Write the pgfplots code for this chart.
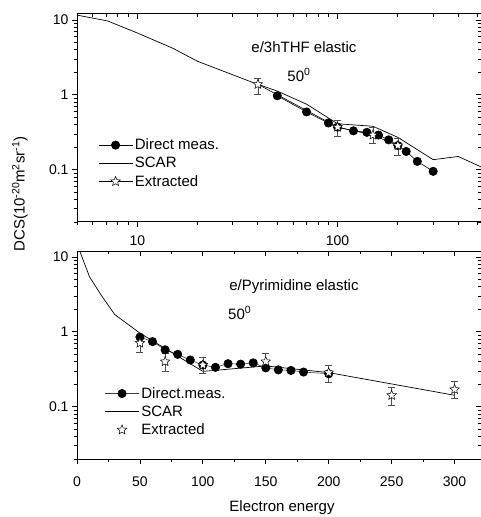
\documentclass[border=0pt]{standalone}
\usepackage{fontspec}
\setmainfont{Liberation Sans}
\usepackage{pgfplots}
\pgfplotsset{compat=1.18}

% open five-pointed star
\pgfdeclareplotmark{ostar}{%
  \pgfpathmoveto{\pgfpointpolar{90}{\pgfplotmarksize}}%
  \pgfpathlineto{\pgfpointpolar{126}{0.45\pgfplotmarksize}}%
  \pgfpathlineto{\pgfpointpolar{162}{\pgfplotmarksize}}%
  \pgfpathlineto{\pgfpointpolar{198}{0.45\pgfplotmarksize}}%
  \pgfpathlineto{\pgfpointpolar{234}{\pgfplotmarksize}}%
  \pgfpathlineto{\pgfpointpolar{270}{0.45\pgfplotmarksize}}%
  \pgfpathlineto{\pgfpointpolar{306}{\pgfplotmarksize}}%
  \pgfpathlineto{\pgfpointpolar{342}{0.45\pgfplotmarksize}}%
  \pgfpathlineto{\pgfpointpolar{18}{\pgfplotmarksize}}%
  \pgfpathlineto{\pgfpointpolar{54}{0.45\pgfplotmarksize}}%
  \pgfpathclose
  \pgfusepathqfillstroke
}

\pgfplotsset{
  every axis/.append style={scale only axis, width=404pt, height=208pt,
    axis line style={line width=1pt},
    tick style={line width=0.8pt, black},
    major tick length=5pt, minor tick length=3pt,
    ticklabel style={font=\fontsize{14}{16}\selectfont}},
}

\begin{document}
\begin{tikzpicture}[x=1pt,y=1pt]
\useasboundingbox (0,0) rectangle (481,517);

% ---- top panel: e/3hTHF ----
\begin{axis}[at={(77pt,295pt)}, anchor=south west,
  xmode=log, ymode=log, xmin=5, xmax=520, ymin=0.02, ymax=12,
  log ticks with fixed point,
  /pgf/number format/assume math mode=true,
  xticklabel style={yshift=-5pt},
  tick pos=left, tick align=outside,
  legend style={draw=none, fill=none, font=\fontsize{15}{17}\selectfont,
    row sep=2pt, inner sep=0pt, at={(0.052,0.41)}, anchor=north west},
  legend cell align=left,
  legend image code/.code={\draw[mark repeat=2,mark phase=2,#1]
    plot coordinates {(0pt,0pt) (17pt,0pt) (34pt,0pt)};}]
\addplot[black, line width=0.6pt, mark=*, mark size=4.2pt] coordinates {
  (50,0.97) (70,0.59) (90,0.42) (100,0.37) (120,0.33) (140,0.315)
  (160,0.29) (180,0.25) (200,0.21) (220,0.175) (250,0.129) (300,0.095)};
\addlegendentry{Direct meas.}
\addplot[black, line width=0.7pt, no marks] coordinates {
  (5,11.6) (7.1,9.7) (10,6.7) (15,4.2) (20,2.8) (38,1.45) (50,1.12)
  (70,0.75) (100,0.41) (150,0.38) (200,0.27) (300,0.136) (400,0.15) (520,0.109)};
\addlegendentry{SCAR}
\addplot[black, line width=0.6pt, mark=ostar, mark size=5pt,
  mark options={fill=white, solid, line width=0.5pt},
  error bars/y dir=both, error bars/y explicit, error bars/error mark=-,
  error bars/error bar style={line width=0.6pt, gray!60!black},
  error bars/error mark options={rotate=90, mark size=3.5pt, line width=0.6pt, gray!60!black}]
  coordinates {
  (40,1.38) += (0,0.29) -= (0,0.38)
  (100,0.37) += (0,0.09) -= (0,0.09)
  (150,0.29) += (0,0.08) -= (0,0.064)
  (200,0.21) += (0,0.05) -= (0,0.055)};
\addlegendentry{Extracted}
\end{axis}
\begin{axis}[at={(77pt,295pt)}, anchor=south west,
  xmode=log, ymode=log, xmin=5, xmax=520, ymin=0.02, ymax=12,
  tick pos=right, tick align=inside,
  xticklabels={}, yticklabels={}, axis line style={draw=none}]
\end{axis}

% ---- bottom panel: e/Pyrimidine ----
\begin{axis}[at={(77pt,58pt)}, anchor=south west,
  ymode=log, xmin=0, xmax=321, ymin=0.02, ymax=12,
  log ticks with fixed point,
  /pgf/number format/assume math mode=true,
  xticklabel style={yshift=-9pt},
  xtick={0,50,...,300}, minor x tick num=1,
  tick pos=left, tick align=outside,
  legend style={draw=none, fill=none, font=\fontsize{15}{17}\selectfont,
    row sep=2pt, inner sep=0pt, at={(0.068,0.355)}, anchor=north west},
  legend cell align=left,
  legend image code/.code={\draw[mark repeat=2,mark phase=2,#1]
    plot coordinates {(0pt,0pt) (17pt,0pt) (34pt,0pt)};}]
\addplot[gray!50!black, line width=0.6pt, mark=*, mark size=4.2pt,
  mark options={black}] coordinates {
  (50,0.85) (60,0.74) (70,0.575) (80,0.50) (90,0.42) (100,0.36)
  (110,0.335) (120,0.375) (130,0.37) (140,0.385) (150,0.33) (160,0.31)
  (170,0.305) (180,0.29) (200,0.275)};
\addlegendentry{Direct.meas.}
\addplot[black, line width=0.7pt, no marks] coordinates {
  (2,12.2) (10,5.4) (20,2.95) (30,1.7) (50,0.96) (100,0.296)
  (150,0.35) (200,0.285) (300,0.142)};
\addlegendentry{SCAR}
\addplot[black, only marks, mark=ostar, mark size=5pt,
  mark options={fill=white, solid, line width=0.5pt},
  error bars/y dir=both, error bars/y explicit, error bars/error mark=-,
  error bars/error bar style={line width=0.6pt, gray!60!black},
  error bars/error mark options={rotate=90, mark size=3.5pt, line width=0.6pt, gray!60!black}]
  coordinates {
  (50,0.707) += (0,0.14) -= (0,0.18)
  (70,0.40) += (0,0.11) -= (0,0.10)
  (100,0.36) += (0,0.10) -= (0,0.08)
  (150,0.40) += (0,0.11) -= (0,0.08)
  (200,0.285) += (0,0.075) -= (0,0.075)
  (250,0.142) += (0,0.038) -= (0,0.037)
  (300,0.17) += (0,0.05) -= (0,0.04)};
\addlegendentry{Extracted}
\end{axis}
\begin{axis}[at={(77pt,58pt)}, anchor=south west,
  ymode=log, xmin=0, xmax=321, ymin=0.02, ymax=12,
  xtick={0,50,...,300}, minor x tick num=1,
  tick pos=right, tick align=inside,
  xticklabels={}, yticklabels={}, axis line style={draw=none}]
\end{axis}

% ---- texts ----
\begin{scope}[font=\fontsize{15}{17}\selectfont]
\node at (304,470) {e/3hTHF elastic};
\node at (299,442) {50\textsuperscript{0}};
\node at (294,230) {e/Pyrimidine elastic};
\node[anchor=west, inner sep=0pt] at (228,204) {50\textsuperscript{0}};
\node at (282,9) {Electron energy};
\node[rotate=90] at (20,323) {DCS(10\textsuperscript{-20}m\textsuperscript{2}sr\textsuperscript{-1})};
\end{scope}
\end{tikzpicture}
\end{document}
